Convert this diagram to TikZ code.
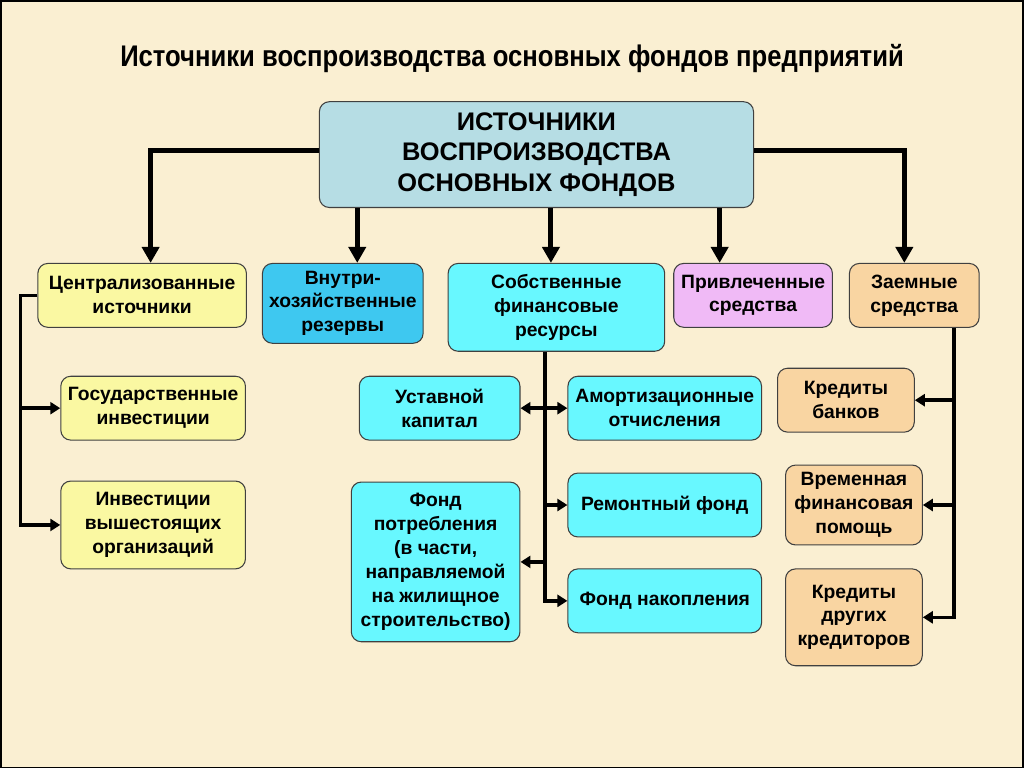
\documentclass[tikz,border=0pt]{standalone}
\usepackage{fontspec}
\setmainfont{Liberation Sans}
\newfontfamily\narrowfont{Liberation Sans}[FakeStretch=0.86]
\usetikzlibrary{arrows.meta}
\definecolor{paper}{RGB}{250,239,210}
\definecolor{headblue}{RGB}{182,221,228}
\definecolor{lemon}{RGB}{250,248,162}
\definecolor{skyblue}{RGB}{62,200,240}
\definecolor{aqua}{RGB}{104,248,255}
\definecolor{lilac}{RGB}{240,186,246}
\definecolor{sand}{RGB}{249,213,162}
\begin{document}
\begin{tikzpicture}[x=0.02cm,y=-0.02cm,
	box/.style={draw=black!75,line width=0.6pt,rounded corners=0.2cm,align=center,
		inner sep=1pt,font=\bfseries\fontsize{11}{13.6}\selectfont},
	toparrow/.style={line width=2.8pt,-{Triangle[length=0.32cm,width=0.34cm]}},
	sidearrow/.style={line width=2pt,-{Triangle[length=0.2cm,width=0.24cm]}}]
	% background and frame
	\fill[paper] (0,0) rectangle (1024,768);
	\draw[line width=1pt] (0,0) rectangle (1024,768);
	\useasboundingbox (0,0) rectangle (1024,768);
	\node (title) at (512,58) {\narrowfont\bfseries\fontsize{17}{19}\selectfont Источники воспроизводства основных фондов предприятий};
	% main box
	\node[box,fill=headblue,minimum width=8.7cm,minimum height=2.12cm,
		font=\bfseries\fontsize{14.5}{17.3}\selectfont] (main) at (536.5,154)
		{ИСТОЧНИКИ\\ВОСПРОИЗВОДСТВА\\ОСНОВНЫХ ФОНДОВ};
	% first row
	\node[box,fill=lemon,minimum width=4.18cm,minimum height=1.28cm] (central) at (141.5,295) {Централизованные\\источники};
	\node[box,fill=skyblue,minimum width=3.22cm,minimum height=1.6cm] (inner) at (342.5,303) {Внутри-\\хозяйственные\\резервы};
	\node[box,fill=aqua,minimum width=4.34cm,minimum height=1.76cm] (own) at (556.5,307) {Собственные\\финансовые\\ресурсы};
	\node[box,fill=lilac,minimum width=3.18cm,minimum height=1.28cm] (attract) at (753.5,295) {Привлеченные\\средства};
	\node[box,fill=sand,minimum width=2.6cm,minimum height=1.28cm] (loan) at (915,295) {Заемные\\средства};
	% centralized sources
	\node[box,fill=lemon,minimum width=3.7cm,minimum height=1.28cm] (state) at (152.5,408) {Государственные\\инвестиции};
	\node[box,fill=lemon,minimum width=3.7cm,minimum height=1.76cm] (upper) at (152.5,525) {Инвестиции\\вышестоящих\\организаций};
	% own resources
	\node[box,fill=aqua,minimum width=3.22cm,minimum height=1.28cm] (capital) at (439.5,408) {Уставной\\капитал};
	\node[box,fill=aqua,minimum width=3.88cm,minimum height=1.28cm] (amort) at (665,408) {Амортизационные\\отчисления};
	\node[box,fill=aqua,minimum width=3.88cm,minimum height=1.28cm] (repair) at (665,505) {Ремонтный фонд};
	\node[box,fill=aqua,minimum width=3.38cm,minimum height=3.2cm] (consume) at (435.5,562) {Фонд\\потребления\\(в части,\\направляемой\\на жилищное\\строительство)};
	\node[box,fill=aqua,minimum width=3.88cm,minimum height=1.28cm] (accum) at (665,601) {Фонд накопления};
	% borrowed funds
	\node[box,fill=sand,minimum width=2.74cm,minimum height=1.28cm] (bank) at (846.5,400) {Кредиты\\банков};
	\node[box,fill=sand,minimum width=2.74cm,minimum height=1.6cm] (temp) at (854.5,505) {Временная\\финансовая\\помощь};
	\node[box,fill=sand,minimum width=2.74cm,minimum height=1.94cm] (other) at (854.5,617.5) {Кредиты\\других\\кредиторов};
	% arrows from the main box
	\draw[toparrow] ([yshift=0.08cm]main.west) -| ([xshift=0.17cm]central.north);
	\draw[toparrow] ([yshift=0.08cm]main.east) -| ([xshift=-0.2cm]loan.north);
	\draw[toparrow] ([xshift=0.29cm]inner.north |- main.south) -- ([xshift=0.29cm]inner.north);
	\draw[toparrow] ([xshift=-0.11cm]own.north |- main.south) -- ([xshift=-0.11cm]own.north);
	\draw[toparrow] ([xshift=-0.67cm]attract.north |- main.south) -- ([xshift=-0.67cm]attract.north);
	% left branch
	\coordinate (ltrunk) at ([xshift=-0.34cm]central.west);
	\draw[sidearrow] (central.west) -- (ltrunk) |- (upper.west);
	\draw[sidearrow] (ltrunk |- state.west) -- (state.west);
	% middle branch
	\coordinate (mtrunk) at ([xshift=-0.23cm]own.south);
	\draw[sidearrow] (mtrunk) |- (accum.west);
	\draw[sidearrow] (mtrunk |- capital.east) -- (capital.east);
	\draw[sidearrow] (mtrunk |- amort.west) -- (amort.west);
	\draw[sidearrow] (mtrunk |- repair.west) -- (repair.west);
	\draw[sidearrow] (mtrunk |- consume.east) -- (consume.east);
	% right branch
	\coordinate (rtrunk) at ([xshift=0.8cm]loan.south);
	\draw[sidearrow] (rtrunk) |- (other.east);
	\draw[sidearrow] (rtrunk |- bank.east) -- (bank.east);
	\draw[sidearrow] (rtrunk |- temp.east) -- (temp.east);
\end{tikzpicture}
\end{document}
